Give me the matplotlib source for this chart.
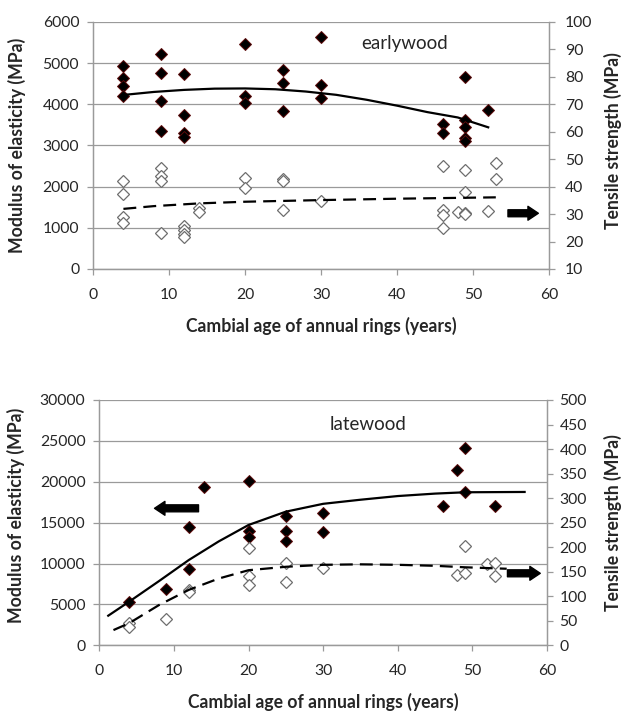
import numpy as np
import matplotlib
matplotlib.use('Agg')
import matplotlib.pyplot as plt

# font similar to Calibri
plt.rcParams['font.family'] = ['Lato', 'DejaVu Sans']

# ---- earlywood data ----
ew_moe_x = [4, 4, 4, 4, 9, 9, 9, 9, 12, 12, 12, 12, 20, 20, 20, 25, 25, 25,
            30, 30, 30, 46, 46, 49, 49, 49, 49, 49, 52]
ew_moe_y = [4930, 4630, 4440, 4200, 5230, 4750, 4090, 3340, 4730, 3730, 3300, 3200,
            5460, 4200, 4025, 4830, 4525, 3840, 5640, 4470, 4165, 3520, 3310,
            4660, 3620, 3440, 3175, 3100, 3860]
ew_ts_x = [4, 4, 4, 4, 9, 9, 9, 9, 12, 12, 12, 12, 14, 14, 20, 20, 25, 25, 25,
           30, 46, 46, 46, 46, 48, 49, 49, 49, 49, 52, 53, 53]
ew_ts_y = [41.9, 37.2, 29.1, 26.6, 46.7, 43.7, 41.9, 23.1, 25.5, 24.2, 22.8, 21.5,
           32.1, 30.7, 43.1, 39.4, 42.8, 42.2, 31.6, 34.6, 47.6, 31.5, 29.7, 25.0,
           30.9, 46.1, 38.2, 30.3, 29.9, 31.1, 48.5, 42.7]
# trend lines
ew_moe_fit_x = [4, 8, 12, 16, 20, 24, 28, 32, 36, 40, 44, 48, 52]
ew_moe_fit_y = [4227, 4300, 4350, 4380, 4385, 4365, 4310, 4230, 4110, 3967, 3810, 3680, 3441]
ew_ts_fit_x = [4, 8, 14, 20, 30, 40, 53]
ew_ts_fit_y = [31.9, 32.9, 33.9, 34.5, 35.1, 35.6, 36.1]

# ---- latewood data ----
lw_moe_x = [4, 9, 12, 12, 14, 20, 20, 20, 25, 25, 25, 30, 30, 46, 48, 49, 49, 53]
lw_moe_y = [5330, 6890, 14500, 9290, 19400, 20150, 14020, 13280, 15850, 13980, 12760,
            16140, 13900, 17040, 21440, 24090, 18710, 17040]
lw_ts_x = [4, 4, 9, 12, 12, 20, 20, 20, 25, 25, 30, 48, 49, 49, 52, 53, 53]
lw_ts_y = [45, 38, 53, 113, 108, 199, 141, 123, 167, 130, 157, 143, 147, 203, 166, 167, 142]
lw_moe_fit_x = [1.2, 4, 8, 12, 16, 20, 25, 30, 35, 40, 45, 49, 57]
lw_moe_fit_y = [3620, 5333, 7850, 10430, 12700, 14712, 16341, 17300, 17800, 18250, 18550, 18712, 18750]
lw_ts_fit_x = [1.9, 4, 8, 12, 16, 20, 25, 30, 35, 40, 45, 49, 54.6]
lw_ts_fit_y = [31, 45, 82, 113, 136, 153, 160, 164, 165, 164, 162, 159, 156]

xticks = [0, 10, 20, 30, 40, 50, 60]
grey = '#9a9a9a'
txt = '#262626'

fig = plt.figure(figsize=(6.26, 7.15), dpi=100)


def style(ax, ax2, rpad):
    for a in (ax, ax2):
        for s in a.spines.values():
            s.set_color(grey)
            s.set_linewidth(0.9)
        a.spines['top'].set_visible(False)
        a.tick_params(colors=grey, labelcolor=txt, labelsize=11.3, length=4, width=0.9,
                      direction='out')
    ax.tick_params(axis='x', pad=9.5)
    ax.tick_params(axis='y', pad=6)
    ax2.tick_params(axis='y', pad=rpad)
    ax.grid(axis='y', color=grey, linewidth=0.9)
    ax.set_axisbelow(True)
    ax.set_xlim(0, 60)
    ax.set_xticks(xticks)


def arrow(ax, x0, x1, y):
    ax.annotate('', xy=(x1, y), xytext=(x0, y),
                arrowprops=dict(arrowstyle='simple,head_length=0.75,head_width=1.0,tail_width=0.5',
                                color='black', shrinkA=0, shrinkB=0, mutation_scale=10))


filled = dict(marker='D', linestyle='none', ms=6.2, mfc='black', mec='#5c0a0a', mew=0.7, zorder=3)
hollow = dict(marker='D', linestyle='none', ms=6.5, mfc='white', mec='#6e6e6e', mew=0.9, zorder=3)
lab = dict(fontsize=12.7, fontweight='bold', color=txt)

# ---------- top: earlywood ----------
ax1 = fig.add_axes([0.1486, 0.6238, 0.7284, 0.3455])
ax2 = ax1.twinx()
style(ax1, ax2, 7.5)
ax1.set_ylim(0, 6000)
ax1.set_yticks(range(0, 6001, 1000))
ax2.set_ylim(10, 100)
ax2.set_yticks(range(10, 101, 10))

ax1.plot(ew_moe_x, ew_moe_y, **filled)
ax1.plot(ew_moe_fit_x, ew_moe_fit_y, color='black', lw=1.6, zorder=4)
ax2.plot(ew_ts_x, ew_ts_y, **hollow)
ax2.plot(ew_ts_fit_x, ew_ts_fit_y, color='black', lw=1.6, dashes=(5.8, 3.2), zorder=4)
arrow(ax2, 54.6, 58.6, 30.3)
ax2.text(41, 92.3, 'earlywood', ha='center', va='center', fontsize=13.5, color=txt)

ax1.set_xlabel('Cambial age of annual rings (years)', **lab)
ax1.xaxis.set_label_coords(0.5, -0.194)
ax1.set_ylabel('Modulus of elasticity (MPa)', **lab)
ax1.yaxis.set_label_coords(-0.147, 0.5)
ax2.set_ylabel('Tensile strength (MPa)', rotation=90, **lab)
ax2.yaxis.set_label_coords(1.12, 0.52)

# ---------- bottom: latewood ----------
ax3 = fig.add_axes([0.1586, 0.0975, 0.7152, 0.3431])
ax4 = ax3.twinx()
style(ax3, ax4, 5)
ax3.set_ylim(0, 30000)
ax3.set_yticks(range(0, 30001, 5000))
ax4.set_ylim(0, 500)
ax4.set_yticks(range(0, 501, 50))

ax3.plot(lw_moe_x, lw_moe_y, **filled)
ax3.plot(lw_moe_fit_x, lw_moe_fit_y, color='black', lw=1.6, zorder=4)
ax4.plot(lw_ts_x, lw_ts_y, **hollow)
ax4.plot(lw_ts_fit_x, lw_ts_fit_y, color='black', lw=1.6, dashes=(5.8, 3.2), zorder=4)
arrow(ax3, 13.3, 7.4, 16750)
arrow(ax4, 54.7, 59.1, 146.7)
ax3.text(36, 26950, 'latewood', ha='center', va='center', fontsize=13.5, color=txt)

ax3.set_xlabel('Cambial age of annual rings (years)', **lab)
ax3.xaxis.set_label_coords(0.5, -0.194)
ax3.set_ylabel('Modulus of elasticity (MPa)', **lab)
ax3.yaxis.set_label_coords(-0.166, 0.53)
ax4.set_ylabel('Tensile strength (MPa)', rotation=90, **lab)
ax4.yaxis.set_label_coords(1.127, 0.5)

fig.savefig('out.png', dpi=100)
